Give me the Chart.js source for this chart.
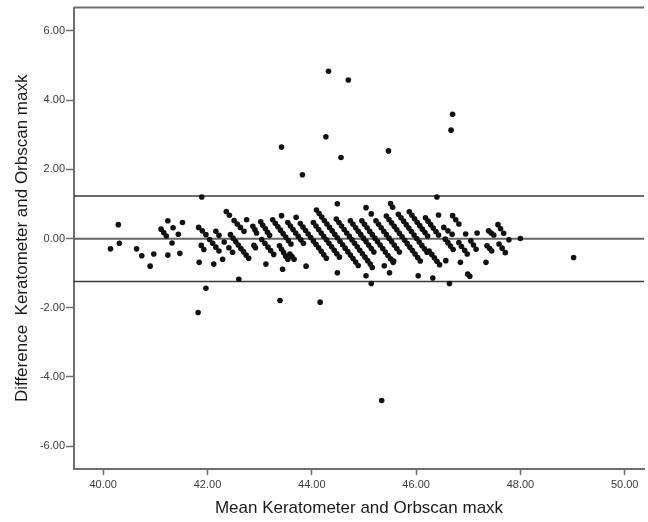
<!DOCTYPE html>
<html>
<head>
<meta charset="utf-8">
<script src="https://cdn.jsdelivr.net/npm/chart.js@4.4.0/dist/chart.umd.min.js"></script>
<style>
  html, body { margin: 0; padding: 0; background: #fff; }
</style>
</head>
<body>
<canvas id="graficoBA" width="648" height="522"></canvas>
<script>
// Media (Keratometer + Orbscan)/2 y diferencia
const meanValues = [
  44.32, 44.70, 46.70, 46.67, 44.27, 43.42, 45.47, 44.56, 43.82, 41.89, 46.40, 44.49,
  41.97, 41.82, 43.39, 44.16, 45.34, 42.60, 45.14, 46.32, 46.64, 47.03, 46.99, 46.04, 45.04,
  45.49, 44.49, 45.39, 45.16, 43.89, 43.44, 43.12, 42.12, 41.84, 42.29, 47.34, 46.85, 46.57,
  40.29, 40.31, 40.14, 40.64, 40.74, 40.97, 40.90, 41.24, 41.52, 41.34, 41.44, 41.32, 41.24, 41.47, 41.11, 41.16, 41.21,
  49.02, 48.00, 47.78, 46.95, 47.17, 47.39, 47.44, 47.49, 47.57, 47.62, 47.68, 46.82, 46.87, 46.93,
  46.98, 47.05, 47.10, 47.15, 47.36, 47.41, 47.45, 47.59, 47.65, 47.71, 46.70, 46.76, 46.82,
  41.83, 41.90, 41.97, 41.88, 41.93, 42.04, 42.10, 42.16, 42.22, 42.16, 42.22, 42.36, 42.42, 42.32,
  42.44, 42.49, 42.54, 42.59, 42.64, 42.69, 42.74, 42.79, 42.51, 42.57, 42.63, 42.70, 42.41, 42.48, 42.75,
  42.87, 42.91, 42.94, 42.89, 42.92, 43.02, 43.06, 43.11, 43.15, 43.19, 43.04, 43.10, 43.16, 43.21, 43.27,
  43.25, 43.30, 43.35, 43.40, 43.45, 43.50, 43.55, 43.60,
  43.54, 43.59, 43.64, 43.69, 43.74, 43.79, 43.84,
  43.78, 43.83, 43.88, 43.93, 43.98, 44.03, 44.08, 44.13, 44.18, 44.23, 44.28,
  44.03, 44.08, 44.13, 44.18, 44.23, 44.28, 44.33, 44.38, 44.43, 44.48, 44.53,
  44.09, 44.14, 44.19, 44.24, 44.29, 44.34, 44.39, 44.44, 44.49, 44.54, 44.59, 44.64, 44.69, 44.74, 44.79, 44.84, 44.89,
  44.47, 44.52, 44.57, 44.62, 44.67, 44.72, 44.77, 44.82, 44.87, 44.92, 44.97, 45.02, 45.07, 45.12,
  44.74, 44.79, 44.84, 44.89, 44.94, 44.99, 45.04, 45.09, 45.14, 45.19,
  44.96, 45.01, 45.06, 45.11, 45.16, 45.21, 45.26, 45.31, 45.36, 45.41, 45.46, 45.51, 45.56,
  45.23, 45.28, 45.33, 45.38, 45.43, 45.48, 45.53, 45.58, 45.63, 45.68,
  45.43, 45.48, 45.53, 45.58, 45.63, 45.68, 45.73, 45.78, 45.83, 45.88, 45.93, 45.98, 46.03, 46.08,
  45.66, 45.71, 45.76, 45.81, 45.86, 45.91, 45.96, 46.01, 46.06, 46.11, 46.16, 46.21,
  45.87, 45.92, 45.97, 46.02, 46.07, 46.12, 46.17, 46.22,
  46.18, 46.23, 46.28, 46.33, 46.38, 46.43,
  46.25, 46.30, 46.35, 46.40, 46.45,
  46.53, 46.61, 46.69, 46.56, 46.61, 46.66, 46.71,
  43.38, 43.42, 43.46, 43.50, 43.54, 43.58, 43.62, 43.66,
  43.42, 43.70, 45.14, 45.04, 45.51, 45.55, 46.43, 45.57
];

const diffValues = [
  4.83, 4.58, 3.59, 3.13, 2.94, 2.64, 2.53, 2.34, 1.84, 1.20, 1.20, 1.00,
  -1.44, -2.14, -1.79, -1.84, -4.68, -1.18, -1.30, -1.14, -1.30, -1.09, -1.03, -1.08, -1.08,
  -0.99, -0.99, -0.79, -0.84, -0.80, -0.89, -0.74, -0.74, -0.69, -0.60, -0.69, -0.69, -0.64,
  0.40, -0.14, -0.30, -0.30, -0.50, -0.45, -0.80, 0.51, 0.46, 0.31, 0.12, -0.13, -0.48, -0.43, 0.27, 0.17, 0.07,
  -0.55, 0.00, -0.04, 0.13, 0.16, 0.22, 0.16, 0.10, 0.40, 0.28, 0.15, -0.12, -0.23, -0.34,
  -0.45, -0.07, -0.19, -0.31, -0.21, -0.29, -0.36, -0.16, -0.28, -0.41, 0.66, 0.54, 0.42,
  0.32, 0.22, 0.11, -0.20, -0.32, -0.03, -0.14, -0.25, -0.36, 0.21, 0.09, 0.78, 0.67, -0.10,
  0.11, 0.01, -0.09, -0.19, -0.29, -0.38, -0.48, -0.57, 0.52, 0.42, 0.32, 0.21, -0.27, -0.40, 0.54,
  0.35, 0.25, 0.16, -0.20, -0.27, 0.48, 0.38, 0.28, 0.18, 0.09, -0.03, -0.14, -0.25, -0.35, -0.46,
  0.54, 0.44, 0.34, 0.24, 0.14, 0.04, -0.06, -0.16,
  0.46, 0.36, 0.26, 0.16, 0.06, -0.04, -0.14,
  0.43, 0.33, 0.23, 0.13, 0.03, -0.07, -0.17, -0.27, -0.37, -0.47, -0.57,
  0.46, 0.36, 0.26, 0.16, 0.06, -0.04, -0.14, -0.24, -0.34, -0.44, -0.54,
  0.82, 0.72, 0.62, 0.52, 0.42, 0.32, 0.22, 0.12, 0.02, -0.08, -0.18, -0.28, -0.38, -0.48, -0.58, -0.68, -0.78,
  0.56, 0.46, 0.36, 0.26, 0.16, 0.06, -0.04, -0.14, -0.24, -0.34, -0.44, -0.54, -0.64, -0.74,
  0.51, 0.41, 0.31, 0.21, 0.11, 0.01, -0.09, -0.19, -0.29, -0.39,
  0.51, 0.41, 0.31, 0.21, 0.11, 0.01, -0.09, -0.19, -0.29, -0.39, -0.49, -0.59, -0.69,
  0.51, 0.41, 0.31, 0.21, 0.11, 0.01, -0.09, -0.19, -0.29, -0.39,
  0.65, 0.55, 0.45, 0.35, 0.25, 0.15, 0.05, -0.05, -0.15, -0.25, -0.35, -0.45, -0.55, -0.65,
  0.70, 0.60, 0.50, 0.40, 0.30, 0.20, 0.10, 0.00, -0.10, -0.20, -0.30, -0.40,
  0.77, 0.67, 0.57, 0.47, 0.37, 0.27, 0.17, 0.07,
  0.60, 0.50, 0.40, 0.30, 0.20, 0.10,
  -0.36, -0.46, -0.56, -0.66, -0.76,
  0.32, 0.22, 0.12, -0.02, -0.12, -0.22, -0.32,
  -0.21, -0.31, -0.41, -0.51, -0.60, -0.45, -0.52, -0.60,
  0.66, 0.61, 0.71, 0.89, 1.01, 0.90, 0.68, -0.65
];

// media y limites de concordancia
const refLines = [1.23, -0.01, -1.24];
const xTicks = [40, 42, 44, 46, 48, 50];
const yTicks = [-6, -4, -2, 0, 2, 4, 6];

const xMin = 39.44, xMax = 50.37;
const yMin = -6.66, yMax = 6.67;

const puntos = meanValues.map((m, i) => ({ x: m, y: diffValues[i] }));

const lineas = refLines.map((v, i) => ({
  type: 'line',
  data: [{ x: xMin, y: v }, { x: xMax, y: v }],
  borderColor: i === 1 ? '#666' : '#3a3a3a',
  borderWidth: i === 1 ? 2 : 1.5,
  pointRadius: 0,
  fill: false
}));

// borde superior del marco
const marco = {
  id: 'marco',
  afterDraw(chart) {
    const { ctx, chartArea } = chart;
    ctx.save();
    ctx.strokeStyle = '#6e6e6e';
    ctx.lineWidth = 2;
    ctx.beginPath();
    ctx.moveTo(chartArea.left, chartArea.top);
    ctx.lineTo(chartArea.right, chartArea.top);
    ctx.stroke();
    ctx.restore();
  }
};

new Chart(document.getElementById('graficoBA'), {
  type: 'scatter',
  data: {
    datasets: [{
      data: puntos,
      backgroundColor: '#111',
      borderWidth: 0,
      pointRadius: 2.8
    }, ...lineas]
  },
  options: {
    responsive: false,
    animation: false,
    layout: { padding: { top: 7, right: 0, left: 0, bottom: 0 } },
    plugins: { legend: { display: false }, tooltip: { enabled: false } },
    scales: {
      x: {
        type: 'linear',
        min: xMin,
        max: xMax,
        afterBuildTicks: s => { s.ticks = xTicks.map(v => ({ value: v })); },
        afterFit: s => { s.height = 53; },
        grid: { drawOnChartArea: false, drawTicks: true, tickLength: 6, tickColor: '#6e6e6e', tickWidth: 1.5 },
        border: { color: '#6e6e6e', width: 2 },
        ticks: {
          padding: 3,
          color: '#3a3a3a',
          font: { family: 'Liberation Sans, Arial', size: 11 },
          callback: v => v.toFixed(2),
          maxRotation: 0
        },
        title: {
          display: true,
          text: 'Mean Keratometer and Orbscan maxk',
          color: '#1a1a1a',
          font: { family: 'Liberation Sans, Arial', size: 17 },
          padding: { top: 0, bottom: 3 }
        }
      },
      y: {
        type: 'linear',
        min: yMin,
        max: yMax,
        afterBuildTicks: s => { s.ticks = yTicks.map(v => ({ value: v })); },
        afterFit: s => { s.width = 74; },
        grid: { drawOnChartArea: false, drawTicks: true, tickLength: 8, tickColor: '#6e6e6e', tickWidth: 1.5 },
        border: { color: '#6e6e6e', width: 2 },
        ticks: {
          padding: 1,
          color: '#3a3a3a',
          font: { family: 'Liberation Sans, Arial', size: 11 },
          callback: v => v.toFixed(2)
        },
        title: {
          display: true,
          text: 'Difference  Keratometer and Orbscan maxk',
          color: '#1a1a1a',
          font: { family: 'Liberation Sans, Arial', size: 17 },
          padding: { top: 12, bottom: 0 }
        }
      }
    }
  },
  plugins: [marco]
});
</script>
</body>
</html>
